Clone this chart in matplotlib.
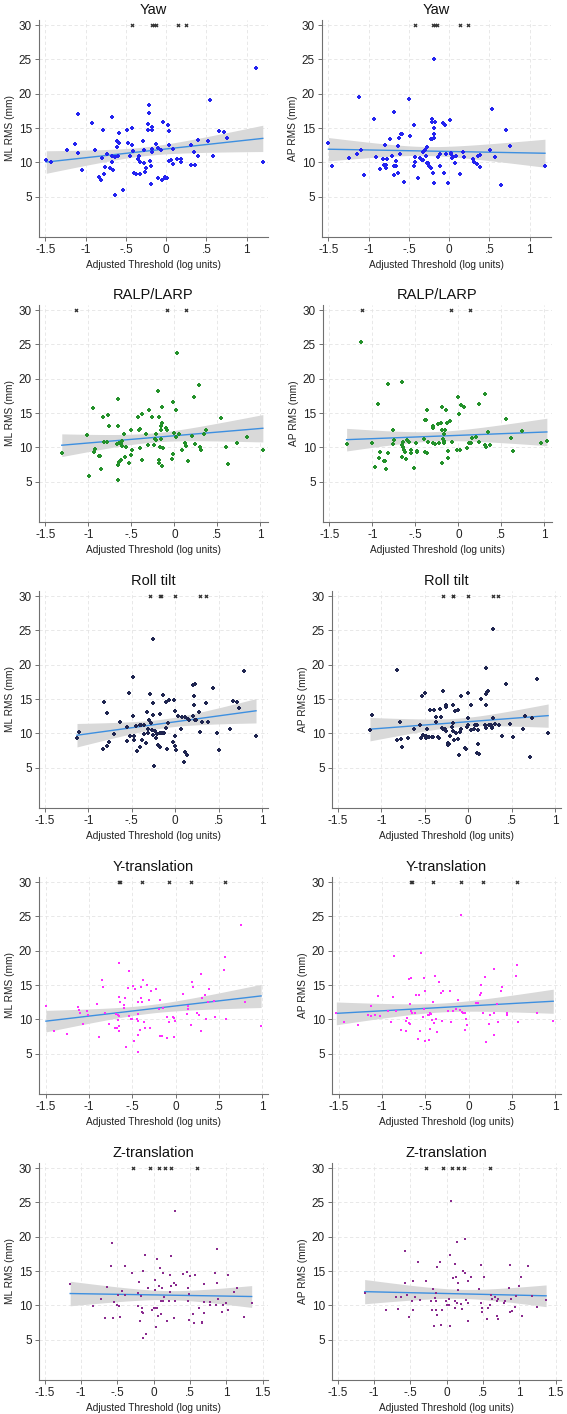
import numpy as np
import matplotlib.pyplot as plt

plt.rcParams['font.family'] = ['Liberation Sans', 'DejaVu Sans']

# (threshold, RMS) pairs, one list per panel
yaw_ml = [(-1.49, 10.3), (-1.43, 10.0), (-1.23, 11.8), (-1.13, 12.7), (-1.10, 17.1), (-1.09, 11.4),
          (-1.05, 8.9), (-0.92, 15.8), (-0.89, 11.8), (-0.84, 7.9), (-0.81, 7.5), (-0.80, 10.6),
          (-0.79, 14.8), (-0.77, 8.3), (-0.76, 9.3), (-0.73, 11.2), (-0.70, 9.2), (-0.67, 10.9),
          (-0.67, 16.6), (-0.67, 10.0), (-0.66, 8.9), (-0.64, 10.8), (-0.63, 5.2), (-0.61, 13.2),
          (-0.61, 12.3), (-0.60, 10.9), (-0.59, 12.8), (-0.59, 14.3), (-0.54, 6.0), (-0.49, 14.7),
          (-0.48, 12.9), (-0.45, 10.9), (-0.43, 12.6), (-0.43, 15.0), (-0.41, 11.7), (-0.40, 8.4),
          (-0.38, 8.3), (-0.35, 10.5), (-0.34, 10.9), (-0.33, 10.0), (-0.32, 8.3), (-0.29, 13.2),
          (-0.28, 9.9), (-0.27, 11.8), (-0.26, 8.6), (-0.25, 9.2), (-0.23, 14.7), (-0.21, 18.3),
          (-0.21, 17.2), (-0.22, 15.6), (-0.20, 10.2), (-0.19, 9.5), (-0.19, 6.8), (-0.18, 12.0),
          (-0.18, 11.5), (-0.17, 14.7), (-0.17, 15.1), (-0.13, 12.7), (-0.10, 12.1), (-0.10, 7.7),
          (-0.07, 11.8), (-0.05, 7.4), (-0.04, 15.9), (-0.02, 7.7), (-0.01, 7.9), (0.01, 7.8),
          (0.02, 15.4), (0.03, 12.5), (0.03, 14.6), (0.04, 10.2), (0.06, 10.3), (0.08, 9.8),
          (0.09, 12.0), (0.14, 10.5), (0.18, 10.5), (0.19, 10.0), (0.31, 9.7), (0.31, 12.6),
          (0.34, 11.6), (0.36, 9.7), (0.39, 13.3), (0.39, 10.9), (0.52, 13.2), (0.54, 19.1),
          (0.58, 10.9), (0.66, 14.6), (0.72, 14.5), (0.76, 13.5), (1.11, 23.8), (1.20, 10.0)]
yaw_ap = [(-1.50, 12.8), (-1.45, 9.5), (-1.24, 10.7), (-1.15, 11.2), (-1.12, 19.6), (-1.10, 11.8),
          (-1.06, 8.2), (-0.93, 16.3), (-0.91, 10.8), (-0.86, 9.1), (-0.82, 10.5), (-0.81, 9.7),
          (-0.80, 12.6), (-0.79, 9.7), (-0.78, 9.2), (-0.77, 10.5), (-0.74, 13.4), (-0.71, 11.0),
          (-0.69, 17.3), (-0.68, 8.2), (-0.68, 9.5), (-0.66, 10.2), (-0.66, 9.5), (-0.64, 8.5),
          (-0.63, 12.4), (-0.62, 13.6), (-0.61, 11.2), (-0.60, 14.1), (-0.59, 14.2), (-0.56, 7.2),
          (-0.50, 19.2), (-0.49, 13.9), (-0.44, 15.5), (-0.44, 9.5), (-0.43, 10.0), (-0.42, 10.8),
          (-0.39, 7.8), (-0.36, 10.6), (-0.34, 10.4), (-0.33, 11.6), (-0.32, 10.4), (-0.30, 11.8),
          (-0.29, 11.0), (-0.28, 12.3), (-0.28, 9.9), (-0.26, 9.9), (-0.25, 9.5), (-0.22, 9.2),
          (-0.23, 13.4), (-0.21, 16.3), (-0.21, 15.9), (-0.21, 13.4), (-0.20, 8.5), (-0.19, 7.0),
          (-0.19, 25.1), (-0.19, 15.0), (-0.19, 14.1), (-0.19, 13.5), (-0.18, 15.9), (-0.14, 10.8),
          (-0.12, 11.3), (-0.11, 9.5), (-0.08, 15.8), (-0.07, 8.4), (-0.05, 15.5), (-0.04, 11.2),
          (-0.01, 7.0), (0.01, 16.2), (0.02, 11.4), (0.02, 11.2), (0.03, 10.7), (0.05, 10.8),
          (0.07, 9.9), (0.09, 10.9), (0.13, 8.3), (0.17, 11.5), (0.18, 10.8), (0.30, 10.5),
          (0.31, 10.0), (0.34, 9.8), (0.36, 10.9), (0.38, 11.1), (0.38, 9.3), (0.51, 11.8),
          (0.53, 17.8), (0.57, 10.8), (0.65, 6.7), (0.71, 14.7), (0.75, 12.4), (1.19, 9.5)]
ralp_ml = [(-1.31, 9.2), (-1.02, 11.8), (-0.99, 5.9), (-0.95, 15.8), (-0.94, 9.3), (-0.92, 9.8),
           (-0.88, 8.8), (-0.86, 8.7), (-0.85, 6.8), (-0.83, 14.5), (-0.82, 10.8), (-0.78, 10.8),
           (-0.77, 14.7), (-0.76, 13.2), (-0.67, 10.5), (-0.66, 17.1), (-0.65, 13.1), (-0.65, 5.2),
           (-0.65, 7.4), (-0.64, 7.9), (-0.64, 10.7), (-0.62, 8.2), (-0.62, 10.7), (-0.61, 10.2),
           (-0.61, 11.0), (-0.59, 11.9), (-0.57, 8.6), (-0.56, 10.1), (-0.53, 7.7), (-0.50, 12.5),
           (-0.50, 8.9), (-0.49, 9.7), (-0.42, 14.5), (-0.41, 12.6), (-0.40, 9.9), (-0.40, 12.7),
           (-0.38, 14.9), (-0.38, 8.2), (-0.33, 12.0), (-0.31, 10.3), (-0.30, 15.5), (-0.26, 14.5),
           (-0.24, 10.4), (-0.22, 11.3), (-0.21, 12.0), (-0.21, 11.1), (-0.19, 18.2), (-0.18, 8.2),
           (-0.18, 14.5), (-0.18, 7.7), (-0.17, 10.0), (-0.16, 11.3), (-0.16, 12.5), (-0.15, 13.2),
           (-0.14, 15.9), (-0.14, 13.5), (-0.14, 7.3), (-0.13, 9.9), (-0.10, 12.8), (-0.09, 12.6),
           (-0.03, 8.3), (-0.02, 9.1), (-0.01, 16.6), (0.00, 12.1), (0.02, 15.4), (0.02, 11.6),
           (0.03, 23.8), (0.06, 11.9), (0.09, 9.7), (0.12, 10.7), (0.13, 10.2), (0.16, 8.1),
           (0.20, 11.7), (0.23, 17.3), (0.24, 10.5), (0.29, 19.1), (0.30, 10.0), (0.31, 9.7),
           (0.34, 11.9), (0.37, 12.6), (0.54, 14.3), (0.60, 10.1), (0.63, 7.6), (0.73, 10.7),
           (0.84, 11.6), (1.03, 9.6)]
ralp_ap = [(-1.30, 10.5), (-1.13, 25.3), (-1.01, 10.7), (-0.97, 7.1), (-0.94, 16.3), (-0.92, 8.5),
           (-0.91, 9.4), (-0.87, 8.0), (-0.85, 8.0), (-0.84, 6.9), (-0.82, 19.2), (-0.82, 9.2),
           (-0.76, 10.5), (-0.76, 12.5), (-0.75, 11.1), (-0.66, 19.6), (-0.65, 10.3), (-0.65, 8.6),
           (-0.64, 10.8), (-0.64, 10.1), (-0.63, 9.6), (-0.62, 9.3), (-0.61, 8.3), (-0.60, 11.1),
           (-0.57, 10.8), (-0.55, 9.7), (-0.55, 9.2), (-0.52, 7.0), (-0.49, 10.6), (-0.48, 9.5),
           (-0.48, 9.3), (-0.40, 11.2), (-0.39, 9.4), (-0.39, 14.0), (-0.38, 14.0), (-0.37, 9.2),
           (-0.36, 15.5), (-0.35, 10.8), (-0.30, 12.8), (-0.29, 13.2), (-0.29, 10.7), (-0.27, 10.5),
           (-0.24, 13.4), (-0.23, 10.7), (-0.20, 13.5), (-0.19, 12.6), (-0.19, 15.9), (-0.19, 7.8),
           (-0.18, 11.2), (-0.17, 10.9), (-0.17, 12.0), (-0.17, 10.6), (-0.15, 12.6), (-0.14, 15.5),
           (-0.13, 13.6), (-0.12, 8.5), (-0.12, 9.5), (-0.10, 13.9), (-0.07, 10.8), (-0.02, 9.7),
           (0.00, 17.3), (0.01, 14.9), (0.02, 9.7), (0.03, 16.2), (0.07, 15.9), (0.10, 9.9),
           (0.12, 10.7), (0.15, 10.7), (0.16, 11.4), (0.20, 11.6), (0.24, 16.3), (0.24, 10.8),
           (0.31, 17.8), (0.31, 10.3), (0.32, 10.0), (0.34, 12.2), (0.37, 10.4), (0.55, 14.1),
           (0.61, 11.4), (0.64, 9.5), (0.74, 12.4), (0.96, 10.7), (1.03, 10.9)]
roll_ml = [(-1.13, 9.3), (-1.11, 10.2), (-0.83, 7.8), (-0.82, 14.6), (-0.79, 13.0), (-0.78, 8.2),
           (-0.76, 8.7), (-0.70, 9.9), (-0.63, 11.7), (-0.56, 10.9), (-0.55, 8.9), (-0.53, 15.9),
           (-0.52, 9.7), (-0.49, 18.2), (-0.49, 12.5), (-0.47, 9.7), (-0.47, 9.1), (-0.45, 11.1),
           (-0.44, 7.4), (-0.41, 8.1), (-0.41, 11.3), (-0.39, 11.3), (-0.38, 9.0), (-0.36, 11.3),
           (-0.36, 9.9), (-0.34, 8.6), (-0.33, 13.1), (-0.31, 10.7), (-0.31, 10.0), (-0.30, 12.0),
           (-0.29, 15.8), (-0.28, 11.5), (-0.27, 10.5), (-0.26, 14.5), (-0.26, 9.8), (-0.25, 23.8),
           (-0.25, 12.7), (-0.24, 5.2), (-0.23, 10.4), (-0.22, 9.3), (-0.21, 9.9), (-0.20, 8.3),
           (-0.18, 8.1), (-0.18, 12.8), (-0.17, 10.0), (-0.15, 10.1), (-0.14, 15.6), (-0.13, 10.0),
           (-0.11, 14.6), (-0.10, 10.8), (-0.09, 7.7), (-0.08, 11.6), (-0.07, 14.9), (-0.03, 8.8),
           (-0.01, 14.9), (0.00, 9.6), (0.00, 13.3), (0.00, 8.2), (0.01, 7.6), (0.03, 12.5),
           (0.07, 10.7), (0.08, 12.4), (0.10, 5.9), (0.11, 12.4), (0.11, 7.3), (0.14, 6.8),
           (0.15, 12.1), (0.16, 11.9), (0.20, 12.5), (0.21, 17.1), (0.23, 11.9), (0.22, 14.2),
           (0.22, 15.4), (0.23, 17.2), (0.24, 12.0), (0.27, 13.1), (0.28, 10.2), (0.31, 11.7),
           (0.36, 14.5), (0.38, 11.7), (0.44, 16.6), (0.48, 10.1), (0.50, 7.6), (0.63, 10.7),
           (0.66, 14.7), (0.71, 14.6), (0.74, 13.7), (0.79, 19.1), (0.93, 9.7)]
roll_ap = [(-1.13, 10.5), (-1.11, 12.7), (-0.82, 19.2), (-0.82, 9.1), (-0.79, 11.7), (-0.77, 9.2),
           (-0.76, 8.0), (-0.69, 9.4), (-0.62, 10.7), (-0.55, 11.2), (-0.54, 9.4), (-0.53, 15.5),
           (-0.52, 9.8), (-0.50, 15.9), (-0.49, 9.4), (-0.48, 9.6), (-0.47, 10.7), (-0.45, 9.5),
           (-0.44, 13.4), (-0.42, 9.5), (-0.41, 9.5), (-0.39, 13.4), (-0.37, 12.4), (-0.37, 11.7),
           (-0.35, 9.5), (-0.34, 9.3), (-0.32, 13.5), (-0.31, 12.4), (-0.30, 10.8), (-0.29, 16.2),
           (-0.29, 10.6), (-0.27, 10.6), (-0.26, 14.1), (-0.25, 13.8), (-0.25, 10.3), (-0.23, 8.6),
           (-0.23, 8.3), (-0.22, 8.4), (-0.21, 9.6), (-0.19, 11.0), (-0.18, 11.6), (-0.18, 14.1),
           (-0.18, 10.3), (-0.16, 9.1), (-0.15, 13.3), (-0.14, 10.0), (-0.12, 13.4), (-0.12, 9.2),
           (-0.10, 6.9), (-0.09, 10.2), (-0.08, 10.7), (-0.08, 15.4), (-0.04, 7.9), (-0.02, 7.8),
           (-0.01, 11.0), (0.00, 15.9), (0.00, 12.3), (0.00, 11.2), (0.03, 14.1), (0.03, 10.5),
           (0.07, 10.7), (0.08, 11.3), (0.10, 11.3), (0.10, 7.2), (0.11, 8.4), (0.11, 10.5),
           (0.13, 7.0), (0.15, 15.0), (0.19, 11.3), (0.20, 19.6), (0.21, 10.8), (0.21, 15.7),
           (0.21, 14.1), (0.22, 16.0), (0.23, 16.2), (0.24, 11.2), (0.26, 11.3), (0.27, 11.0),
           (0.27, 10.8), (0.28, 25.2), (0.29, 12.2), (0.31, 11.4), (0.35, 11.3), (0.39, 9.6),
           (0.44, 17.2), (0.48, 11.4), (0.51, 9.5), (0.63, 10.7), (0.65, 12.6), (0.71, 6.6),
           (0.74, 12.3), (0.79, 17.9), (0.92, 10.0)]
ytr_ml = [(-1.50, 11.9), (-1.41, 8.3), (-1.26, 7.9), (-1.13, 11.8), (-1.12, 11.4), (-1.11, 10.9),
          (-1.07, 9.4), (-1.03, 11.2), (-1.01, 10.6), (-0.91, 12.2), (-0.88, 7.4), (-0.85, 15.7),
          (-0.84, 14.7), (-0.82, 11.0), (-0.77, 9.4), (-0.70, 8.8), (-0.69, 10.8), (-0.68, 8.8),
          (-0.67, 10.6), (-0.67, 9.9), (-0.66, 10.5), (-0.65, 18.2), (-0.65, 8.3), (-0.65, 9.0),
          (-0.65, 13.3), (-0.64, 12.6), (-0.60, 11.7), (-0.60, 12.1), (-0.59, 13.2), (-0.57, 6.0),
          (-0.55, 14.6), (-0.54, 10.5), (-0.54, 17.1), (-0.52, 10.1), (-0.50, 10.1), (-0.49, 14.9),
          (-0.48, 6.8), (-0.47, 14.5), (-0.45, 10.1), (-0.44, 7.8), (-0.44, 9.8), (-0.44, 12.5),
          (-0.43, 5.3), (-0.43, 10.8), (-0.41, 8.4), (-0.40, 13.1), (-0.40, 14.8), (-0.39, 12.6),
          (-0.38, 15.8), (-0.36, 9.7), (-0.35, 8.8), (-0.33, 15.0), (-0.31, 12.9), (-0.30, 8.8),
          (-0.28, 14.2), (-0.23, 14.5), (-0.19, 11.5), (-0.18, 12.8), (-0.18, 7.6), (-0.16, 7.6),
          (-0.14, 11.7), (-0.10, 7.3), (-0.10, 10.3), (-0.07, 9.7), (-0.03, 10.4), (-0.02, 7.4),
          (-0.02, 10.2), (-0.01, 9.8), (0.09, 13.7), (0.13, 10.8), (0.15, 12.0), (0.15, 11.5),
          (0.18, 9.2), (0.19, 15.4), (0.20, 14.7), (0.25, 11.0), (0.27, 10.6), (0.30, 8.3),
          (0.30, 16.6), (0.31, 13.2), (0.34, 13.5), (0.35, 10.0), (0.38, 12.6), (0.39, 14.5),
          (0.44, 12.7), (0.46, 10.3), (0.56, 17.2), (0.57, 19.1), (0.58, 10.0), (0.76, 23.7),
          (0.80, 12.6), (0.99, 9.1)]
ytr_ap = [(-1.53, 10.9), (-1.44, 9.7), (-1.28, 9.2), (-1.16, 10.7), (-1.13, 11.9), (-1.13, 10.5),
          (-1.08, 10.6), (-1.05, 13.4), (-1.03, 10.5), (-0.93, 11.3), (-0.90, 9.7), (-0.87, 13.3),
          (-0.86, 19.3), (-0.84, 11.2), (-0.78, 8.5), (-0.72, 9.8), (-0.72, 8.3), (-0.71, 10.2),
          (-0.69, 15.9), (-0.69, 9.5), (-0.68, 9.4), (-0.68, 12.3), (-0.67, 16.0), (-0.67, 11.2),
          (-0.66, 11.0), (-0.62, 10.9), (-0.61, 13.6), (-0.59, 7.2), (-0.57, 13.5), (-0.56, 8.3),
          (-0.55, 19.7), (-0.53, 10.4), (-0.52, 11.5), (-0.52, 16.0), (-0.50, 6.9), (-0.50, 14.2),
          (-0.47, 10.6), (-0.46, 7.0), (-0.46, 10.7), (-0.45, 10.9), (-0.45, 8.6), (-0.44, 10.8),
          (-0.42, 9.9), (-0.41, 12.5), (-0.40, 9.5), (-0.39, 16.3), (-0.38, 10.1), (-0.36, 8.2),
          (-0.34, 15.5), (-0.32, 13.9), (-0.31, 9.8), (-0.29, 14.2), (-0.24, 11.3), (-0.21, 14.2),
          (-0.20, 9.6), (-0.18, 11.2), (-0.15, 11.5), (-0.12, 12.9), (-0.10, 11.4), (-0.09, 25.2),
          (-0.08, 11.1), (-0.06, 11.0), (-0.04, 10.9), (-0.04, 8.5), (-0.03, 10.0), (-0.02, 9.2),
          (0.09, 12.4), (0.11, 12.4), (0.13, 13.5), (0.14, 15.0), (0.15, 13.9), (0.17, 11.0),
          (0.19, 16.2), (0.20, 6.7), (0.24, 9.3), (0.25, 10.7), (0.29, 7.8), (0.30, 17.3),
          (0.30, 11.0), (0.33, 12.3), (0.34, 9.6), (0.38, 14.2), (0.39, 14.7), (0.44, 10.6),
          (0.45, 10.9), (0.55, 16.4), (0.56, 17.9), (0.57, 9.6), (0.79, 10.9), (0.98, 9.8)]
ztr_ml = [(-1.15, 13.1), (-0.84, 9.9), (-0.72, 10.9), (-0.67, 8.2), (-0.65, 12.7), (-0.59, 15.7),
          (-0.58, 19.1), (-0.56, 8.2), (-0.54, 10.5), (-0.50, 10.1), (-0.49, 11.5), (-0.48, 9.9),
          (-0.47, 8.3), (-0.44, 12.1), (-0.40, 15.8), (-0.39, 11.6), (-0.30, 14.7), (-0.22, 11.8),
          (-0.21, 9.9), (-0.20, 13.4), (-0.19, 7.8), (-0.17, 11.4), (-0.16, 9.0), (-0.16, 9.7),
          (-0.15, 15.0), (-0.15, 8.9), (-0.15, 5.2), (-0.12, 17.3), (-0.10, 5.9), (-0.08, 12.6),
          (-0.02, 9.3), (0.00, 9.7), (0.02, 13.7), (0.02, 12.2), (0.03, 6.8), (0.03, 9.7),
          (0.04, 16.7), (0.05, 9.7), (0.06, 8.4), (0.08, 12.8), (0.09, 15.5), (0.10, 8.7),
          (0.10, 10.6), (0.12, 12.6), (0.13, 14.7), (0.13, 10.7), (0.14, 11.2), (0.19, 7.7),
          (0.21, 10.7), (0.22, 12.0), (0.23, 14.4), (0.24, 17.2), (0.24, 12.9), (0.28, 8.2),
          (0.28, 13.3), (0.29, 10.6), (0.30, 23.8), (0.31, 13.0), (0.41, 14.6), (0.46, 14.9),
          (0.47, 10.7), (0.47, 12.6), (0.48, 11.7), (0.48, 7.9), (0.50, 14.3), (0.54, 8.8),
          (0.55, 7.4), (0.57, 14.5), (0.62, 9.7), (0.66, 7.6), (0.67, 7.4), (0.69, 13.1),
          (0.69, 10.5), (0.69, 8.9), (0.78, 10.5), (0.78, 10.1), (0.85, 14.8), (0.86, 10.1),
          (0.87, 18.2), (0.87, 13.3), (0.89, 10.9), (0.94, 9.1), (0.95, 10.1), (0.99, 10.3),
          (1.02, 14.5), (1.03, 9.4), (1.11, 11.9), (1.15, 12.5), (1.24, 8.3), (1.35, 10.3)]
ztr_ap = [(-1.13, 11.8), (-0.83, 9.4), (-0.70, 11.2), (-0.67, 9.5), (-0.63, 11.2), (-0.57, 17.9),
          (-0.57, 13.3), (-0.55, 11.5), (-0.52, 8.3), (-0.48, 10.7), (-0.47, 13.5), (-0.47, 9.4),
          (-0.46, 9.3), (-0.43, 11.2), (-0.39, 16.4), (-0.37, 10.8), (-0.29, 13.5), (-0.21, 10.6),
          (-0.20, 9.3), (-0.19, 12.4), (-0.18, 7.0), (-0.16, 11.1), (-0.15, 11.8), (-0.15, 10.7),
          (-0.15, 9.4), (-0.14, 8.6), (-0.14, 15.6), (-0.09, 16.4), (-0.08, 7.1), (-0.07, 9.4),
          (-0.01, 10.6), (0.01, 10.1), (0.03, 11.0), (0.03, 10.0), (0.05, 7.0), (0.05, 17.3),
          (0.06, 25.2), (0.09, 14.0), (0.11, 16.1), (0.11, 10.7), (0.12, 9.7), (0.13, 14.2),
          (0.14, 19.2), (0.14, 10.4), (0.15, 13.3), (0.15, 12.3), (0.20, 10.2), (0.21, 9.5),
          (0.22, 15.0), (0.25, 14.7), (0.25, 19.7), (0.26, 10.8), (0.29, 7.8), (0.30, 13.5),
          (0.30, 10.4), (0.33, 14.1), (0.45, 12.4), (0.47, 15.9), (0.47, 10.4), (0.48, 9.6),
          (0.49, 9.1), (0.51, 14.1), (0.55, 8.1), (0.57, 9.6), (0.59, 10.0), (0.61, 11.6),
          (0.62, 10.9), (0.67, 11.2), (0.69, 8.4), (0.70, 10.6), (0.71, 8.1), (0.71, 10.9),
          (0.80, 10.6), (0.79, 10.4), (0.86, 12.5), (0.87, 15.9), (0.87, 9.1), (0.90, 9.2),
          (0.89, 11.0), (0.94, 9.8), (0.96, 11.4), (1.00, 12.8), (1.03, 14.1), (1.04, 8.5),
          (1.12, 15.8), (1.17, 11.4), (1.24, 9.8), (1.37, 10.8)]

# thresholds of subjects whose RMS is off the scale (plotted at 30)
yaw_ml_cap = [-0.42, -0.17, -0.15, -0.13, 0.15, 0.25]
yaw_ap_cap = [-0.43, -0.20, -0.17, -0.15, 0.14, 0.24]
ralp_ml_cap = [-1.14, -0.09, 0.13]
ralp_ap_cap = [-1.12, -0.08, 0.14]
roll_ml_cap = [-0.29, -0.18, -0.16, 0.0, 0.28, 0.35]
roll_ap_cap = [-0.29, -0.18, -0.17, 0.0, 0.28, 0.34]
ytr_ml_cap = [-0.65, -0.64, -0.39, -0.08, 0.18, 0.57]
ytr_ap_cap = [-0.67, -0.66, -0.41, -0.09, 0.17, 0.56]
ztr_ml_cap = [-0.29, -0.05, 0.07, 0.15, 0.24, 0.60]
ztr_ap_cap = [-0.29, -0.05, 0.07, 0.15, 0.24, 0.60]

titles = ['Yaw', 'RALP/LARP', 'Roll tilt', 'Y-translation', 'Z-translation']
ylabels = ['ML RMS (mm)', 'AP RMS (mm)']
xticks_by_row = [[-1.5, -1, -0.5, 0, 0.5, 1]] * 4 + [[-1.5, -1, -0.5, 0, 0.5, 1, 1.5]]
yticks = [5, 10, 15, 20, 25, 30]

panels = [[yaw_ml, yaw_ap], [ralp_ml, ralp_ap], [roll_ml, roll_ap], [ytr_ml, ytr_ap], [ztr_ml, ztr_ap]]
caps = [[yaw_ml_cap, yaw_ap_cap], [ralp_ml_cap, ralp_ap_cap], [roll_ml_cap, roll_ap_cap],
        [ytr_ml_cap, ytr_ap_cap], [ztr_ml_cap, ztr_ap_cap]]
colors = ['#2323f0', '#23912a', '#1f2550', '#ff2eff', '#8a2a8e']
markers = ['P', 'P', 'P', 's', 's']
msizes = [7, 7, 7, 4, 4]
xlims = [(-1.58, 1.265), (-1.575, 1.09), (-1.567, 1.068), (-1.58, 1.07), (-1.58, 1.575)]


def stata_fmt(v):
    s = f'{v:g}'
    if s.startswith('0.'):
        s = s[1:]
    elif s.startswith('-0.'):
        s = '-' + s[2:]
    return s


W, H = 567, 1414
fig = plt.figure(figsize=(W / 100, H / 100), dpi=100)
row_top = [20, 305, 591, 877, 1163]
col_left = [[39, 322], [39, 323], [39, 332], [39, 332], [39, 332]]
ax_w, ax_h = 229, 217

for r in range(5):
    for c in range(2):
        left = col_left[r][c]
        top = row_top[r]
        ax = fig.add_axes([left / W, 1 - (top + ax_h) / H, ax_w / W, ax_h / H])
        pts = np.array(panels[r][c])
        x, y = pts[:, 0], pts[:, 1]

        # linear fit with 95% CI of the mean
        n = len(x)
        b1, b0 = np.polyfit(x, y, 1)
        resid = y - (b0 + b1 * x)
        s = np.sqrt(np.sum(resid ** 2) / (n - 2))
        xs = np.linspace(x.min(), x.max(), 100)
        se = s * np.sqrt(1 / n + (xs - x.mean()) ** 2 / np.sum((x - x.mean()) ** 2))
        fit = b0 + b1 * xs
        ax.fill_between(xs, fit - 1.99 * se, fit + 1.99 * se, color='#d9d9d9', lw=0, zorder=1)
        ax.plot(xs, fit, color='#3d8fe0', lw=1.0, zorder=2)

        ax.scatter(x, y, marker=markers[r], s=msizes[r], color=colors[r], lw=0, zorder=3)
        cx = np.array(caps[r][c])
        ax.scatter(cx, np.full(len(cx), 30), marker='x', s=5, color='#333333', lw=0.9, zorder=3)

        ax.set_xlim(xlims[r])
        ax.set_ylim(-0.85, 30.75)
        xt = xticks_by_row[r]
        ax.set_xticks(xt)
        ax.set_xticklabels([stata_fmt(v) for v in xt])
        ax.set_yticks(yticks)
        ax.grid(True, color='#e4e4e4', linestyle=(0, (4, 3)), lw=0.6)
        ax.set_axisbelow(True)
        for side in ['top', 'right']:
            ax.spines[side].set_visible(False)
        for side in ['left', 'bottom']:
            ax.spines[side].set_color('#707070')
            ax.spines[side].set_linewidth(0.8)
        ax.tick_params(length=3, width=0.7, color='#707070', labelsize=8.5, labelcolor='#222222', pad=2)

        ax.set_title(titles[r], fontsize=10.5, pad=4, color='#111111')
        ax.set_ylabel(ylabels[c], fontsize=7.3, labelpad=3, color='#222222')
        ax.set_xlabel('Adjusted Threshold (log units)', fontsize=7.3, labelpad=3, color='#222222')

fig.savefig('out.png', dpi=100)
